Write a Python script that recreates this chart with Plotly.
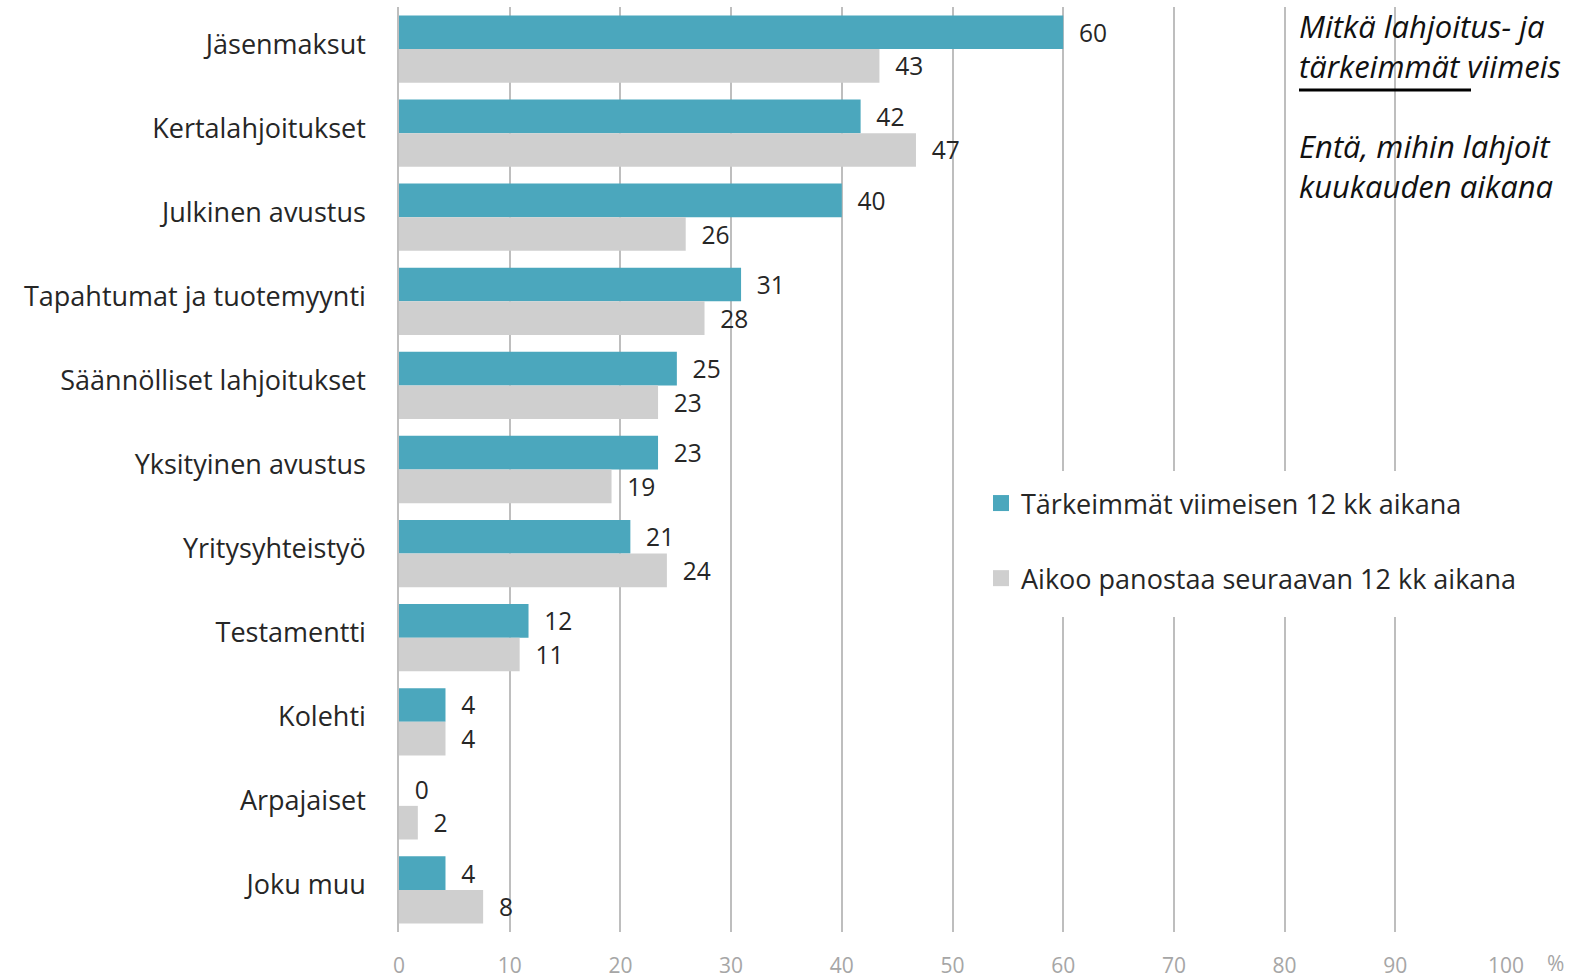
import plotly.graph_objects as go

categories = ["Jäsenmaksut", "Kertalahjoitukset", "Julkinen avustus",
              "Tapahtumat ja tuotemyynti", "Säännölliset lahjoitukset",
              "Yksityinen avustus", "Yritysyhteistyö", "Testamentti",
              "Kolehti", "Arpajaiset", "Joku muu"]
last_12 = [60.0, 41.7, 40.0, 30.9, 25.1, 23.4, 20.9, 11.7, 4.2, 0.0, 4.2]
next_12 = [43.4, 46.7, 25.9, 27.6, 23.4, 19.2, 24.2, 10.9, 4.2, 1.7, 7.6]
series_names = ["Tärkeimmät viimeisen 12 kk aikana",
                "Aikoo panostaa seuraavan 12 kk aikana"]
x_ticks = [0, 10, 20, 30, 40, 50, 60, 70, 80, 90, 100]

FONT = "Open Sans"
TXT = "#262626"
TEAL = "#4BA7BD"
GRAY = "#CFCFCF"
GRID = "#BEBEBE"

L, R, T, B = 399, 67, 7, 46
W, H = 1573, 978
PW, PH = W - L - R, H - T - B


def px_x(x):
    return (x - L) / PW


def px_y(y):
    return 1 - (y - T) / PH


fig = go.Figure()
for i, (vals, col) in enumerate([(last_12, TEAL), (next_12, GRAY)]):
    fig.add_trace(go.Bar(
        y=categories, x=vals, orientation="h", name=series_names[i],
        marker=dict(color=col, line=dict(width=0)),
        texttemplate="\u00a0\u00a0%{x:.0f}", textposition="outside",
        textfont=dict(family=FONT, size=27, color=TXT),
        cliponaxis=False, showlegend=False,
    ))
# legend entries with larger square symbols
for i, col in enumerate([TEAL, GRAY]):
    fig.add_trace(go.Scatter(
        x=[None], y=[None], mode="markers", name=series_names[i],
        marker=dict(symbol="square", size=16, color=col),
        legendgroup=f"g{i}", showlegend=True,
    ))

fig.update_layout(
    width=W, height=H,
    margin=dict(l=L, r=R, t=T, b=B, autoexpand=False),
    paper_bgcolor="white", plot_bgcolor="white",
    barmode="group", bargap=0.2, bargroupgap=0,
    font=dict(family=FONT, color=TXT),
    xaxis=dict(range=[0, 100], tickvals=x_ticks, showgrid=True,
               gridcolor=GRID, gridwidth=1.5, zeroline=False,
               showline=False, ticks="", automargin=False,
               tickfont=dict(family=FONT, size=21, color="#A6A6A6"),
               ticklabelstandoff=19, fixedrange=True),
    yaxis=dict(autorange="reversed", showgrid=False, zeroline=False,
               showline=True, linecolor=GRID, linewidth=1.5, ticks="",
               automargin=False,
               tickfont=dict(family=FONT, size=27, color=TXT),
               ticklabelstandoff=26, ticklabelshift=5),
    showlegend=True,
    legend=dict(x=px_x(981), y=px_y(479), xref="paper", yref="paper",
                xanchor="left", yanchor="top",
                bgcolor="rgba(0,0,0,0)", borderwidth=0,
                font=dict(family=FONT, size=27, color=TXT),
                traceorder="grouped", tracegroupgap=37,
                itemwidth=30),
    shapes=[
        dict(type="rect", xref="paper", yref="paper",
             x0=px_x(965), x1=1.2, y0=px_y(617), y1=px_y(471),
             fillcolor="white", line=dict(width=0), layer="above"),
        dict(type="line", xref="paper", yref="paper",
             x0=px_x(1299), x1=px_x(1471), y0=px_y(90), y1=px_y(90),
             line=dict(color="black", width=3), layer="above"),
    ],
)

ann_font = dict(family=FONT, size=31, color="#111111")
paragraphs = [("<i>Mitkä lahjoitus- ja<br>tärkeimmät viimeis</i>", 46),
              ("<i>Entä, mihin lahjoit<br>kuukauden aikana</i>", 166)]
for t, ypx in paragraphs:
    fig.add_annotation(text=t, xref="paper", yref="paper",
                       x=px_x(1297), y=px_y(ypx), align="left",
                       xanchor="left", yanchor="middle", showarrow=False,
                       font=ann_font)

fig.add_annotation(text="%", xref="paper", yref="paper",
                   x=px_x(1555), y=px_y(963),
                   xanchor="center", yanchor="middle", showarrow=False,
                   font=dict(family=FONT, size=21, color="#A6A6A6"))

fig.write_html(
    "out.html",
    config={"displayModeBar": False},
    post_script="document.body.style.margin='0';"
                "document.body.style.overflow='hidden';",
)
